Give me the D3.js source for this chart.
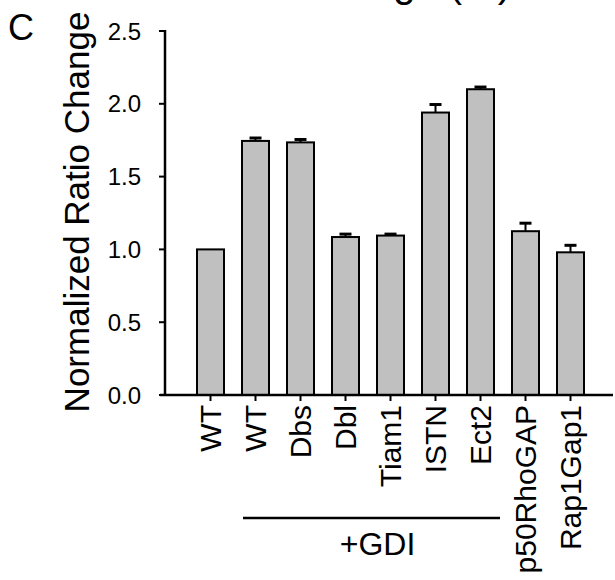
<!DOCTYPE html>
<html>
<head>
<meta charset="utf-8">
<script src="https://cdn.jsdelivr.net/npm/d3@7"></script>
<style>
  html, body { margin: 0; padding: 0; background: #fff; }
  svg { display: block; font-family: "Liberation Sans", Arial, sans-serif; }
</style>
</head>
<body>
<svg id="chart" width="615" height="580"></svg>
<script>
// Conditions (unique keys) and their drawn labels
const keys = ["WT", "WT+GDI", "Dbs", "Dbl", "Tiam1", "ISTN", "Ect2", "p50RhoGAP", "Rap1Gap1"];
const labels = ["WT", "WT", "Dbs", "Dbl", "Tiam1", "ISTN", "Ect2", "p50RhoGAP", "Rap1Gap1"];
// Mean normalized ratio change and SEM
const values = [1.00, 1.745, 1.735, 1.085, 1.095, 1.94, 2.10, 1.125, 0.98];
const errors = [0.0, 0.02, 0.02, 0.02, 0.01, 0.055, 0.015, 0.055, 0.048];
const yTicks = [0.0, 0.5, 1.0, 1.5, 2.0, 2.5];
// Conditions grouped under the +GDI bracket
const gdiGroup = ["WT+GDI", "Ect2"];

const svg = d3.select("#chart");

const x = d3.scaleBand().domain(keys).range([188, 593]).paddingInner(0.4).paddingOuter(0.2);
const y = d3.scaleLinear().domain([0, 2.5]).range([395, 31]);
const axisX = 165;

// Bars
svg.append("g").selectAll("rect").data(keys).join("rect")
  .attr("x", d => x(d))
  .attr("y", (d, i) => y(values[i]))
  .attr("width", x.bandwidth())
  .attr("height", (d, i) => y(0) - y(values[i]))
  .attr("fill", "#c0c0c0")
  .attr("stroke", "#000")
  .attr("stroke-width", 2);

// Upper error bars
const eb = svg.append("g").selectAll("g").data(keys.filter((d, i) => errors[i] > 0)).join("g");
eb.append("line")
  .attr("x1", d => x(d) + x.bandwidth() / 2)
  .attr("x2", d => x(d) + x.bandwidth() / 2)
  .attr("y1", d => y(values[keys.indexOf(d)]))
  .attr("y2", d => y(values[keys.indexOf(d)] + errors[keys.indexOf(d)]))
  .attr("stroke", "#000").attr("stroke-width", 2);
eb.append("line")
  .attr("x1", d => x(d) + x.bandwidth() / 2 - 6)
  .attr("x2", d => x(d) + x.bandwidth() / 2 + 6)
  .attr("y1", d => y(values[keys.indexOf(d)] + errors[keys.indexOf(d)]))
  .attr("y2", d => y(values[keys.indexOf(d)] + errors[keys.indexOf(d)]))
  .attr("stroke", "#000").attr("stroke-width", 3);

// Y axis
const yAxis = svg.append("g");
yAxis.append("line")
  .attr("x1", axisX).attr("x2", axisX)
  .attr("y1", y(2.5) - 1).attr("y2", y(0))
  .attr("stroke", "#000").attr("stroke-width", 2.5);
yAxis.selectAll("line.tick").data(yTicks).join("line")
  .attr("class", "tick")
  .attr("x1", axisX - 6).attr("x2", axisX)
  .attr("y1", d => y(d)).attr("y2", d => y(d))
  .attr("stroke", "#000").attr("stroke-width", 2);
yAxis.selectAll("text").data(yTicks).join("text")
  .attr("x", 141)
  .attr("y", d => y(d))
  .attr("dy", "0.36em")
  .attr("text-anchor", "end")
  .attr("font-size", 24)
  .text(d => d.toFixed(1));

// X axis
const xAxis = svg.append("g");
xAxis.append("line")
  .attr("x1", 160).attr("x2", 613)
  .attr("y1", y(0)).attr("y2", y(0))
  .attr("stroke", "#000").attr("stroke-width", 2.5);
xAxis.selectAll("line.tick").data(keys).join("line")
  .attr("class", "tick")
  .attr("x1", d => x(d) + x.bandwidth() / 2)
  .attr("x2", d => x(d) + x.bandwidth() / 2)
  .attr("y1", y(0)).attr("y2", y(0) + 6)
  .attr("stroke", "#000").attr("stroke-width", 2);
xAxis.selectAll("text").data(keys).join("text")
  .attr("transform", d => `translate(${x(d) + x.bandwidth() / 2},405) rotate(-90)`)
  .attr("dy", "0.36em")
  .attr("text-anchor", "end")
  .attr("font-size", 30)
  .text((d, i) => labels[i]);

// +GDI bracket
const gx1 = x(gdiGroup[0]) + 1;
const gx2 = x(gdiGroup[1]) + x.bandwidth() + 6;
svg.append("line")
  .attr("x1", gx1).attr("x2", gx2)
  .attr("y1", 518).attr("y2", 518)
  .attr("stroke", "#000").attr("stroke-width", 2.5);
svg.append("text")
  .attr("x", (gx1 + gx2) / 2 + 6).attr("y", 555)
  .attr("text-anchor", "middle")
  .attr("font-size", 32)
  .text("+GDI");

// Y title
svg.append("text")
  .attr("transform", "translate(89,212) rotate(-90)")
  .attr("text-anchor", "middle")
  .attr("font-size", 35)
  .text("Normalized Ratio Change");

// Panel letter
svg.append("text")
  .attr("x", 8).attr("y", 40)
  .attr("font-size", 36)
  .text("C");

// Title of the panel above, running off the top edge
svg.append("text")
  .attr("x", 511).attr("y", -3)
  .attr("text-anchor", "end")
  .attr("font-size", 40)
  .text("Ratio Change (%)");
</script>
</body>
</html>
